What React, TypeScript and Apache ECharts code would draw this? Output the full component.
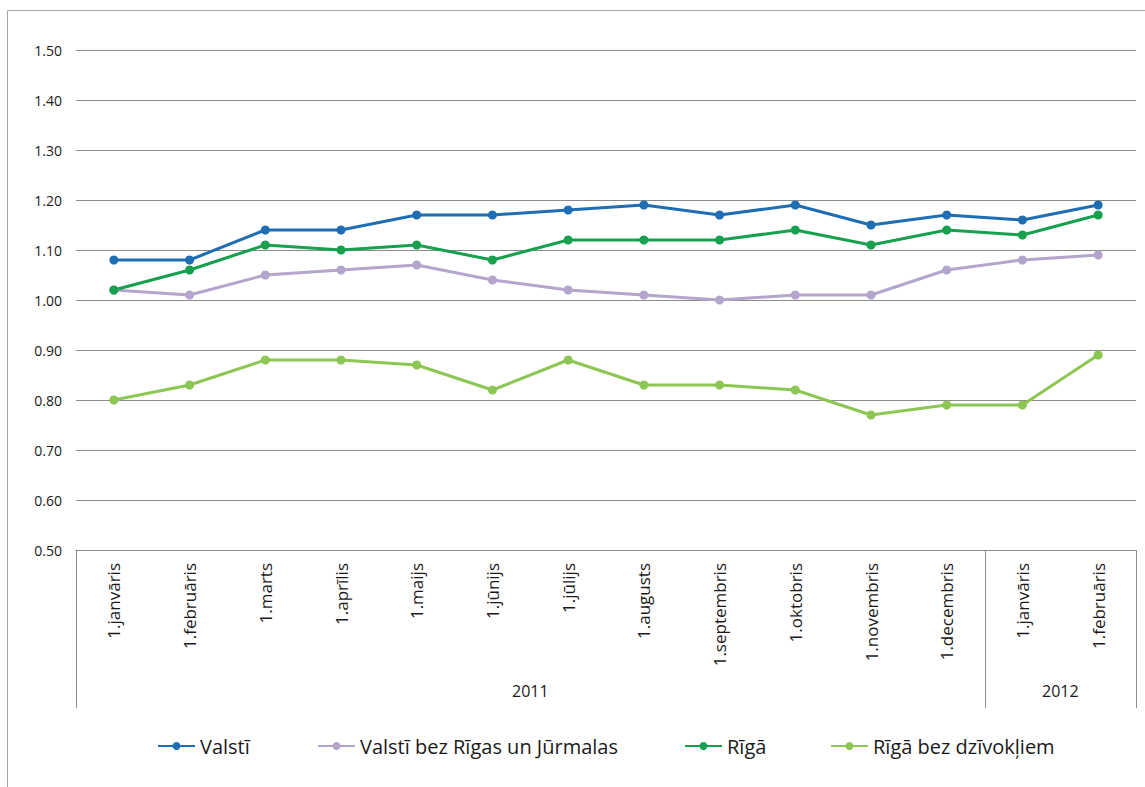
import React, { useEffect, useRef } from "react";
import * as echarts from "echarts";

const categories = [
  "1.janvāris", "1.februāris", "1.marts", "1.aprīlis", "1.maijs", "1.jūnijs", "1.jūlijs",
  "1.augusts", "1.septembris", "1.oktobris", "1.novembris", "1.decembris", "1.janvāris", "1.februāris",
];
const years = [
  { label: "2011", from: 0, to: 11 },
  { label: "2012", from: 12, to: 13 },
];
const valsti = [1.08, 1.08, 1.14, 1.14, 1.17, 1.17, 1.18, 1.19, 1.17, 1.19, 1.15, 1.17, 1.16, 1.19];
const valstiBezRigas = [1.02, 1.01, 1.05, 1.06, 1.07, 1.04, 1.02, 1.01, 1.0, 1.01, 1.01, 1.06, 1.08, 1.09];
const riga = [1.02, 1.06, 1.11, 1.1, 1.11, 1.08, 1.12, 1.12, 1.12, 1.14, 1.11, 1.14, 1.13, 1.17];
const rigaBezDz = [0.8, 0.83, 0.88, 0.88, 0.87, 0.82, 0.88, 0.83, 0.83, 0.82, 0.77, 0.79, 0.79, 0.89];

const seriesDefs = [
  { name: "Valstī", data: valsti, color: "#1f6db3" },
  { name: "Valstī bez Rīgas un Jūrmalas", data: valstiBezRigas, color: "#b3a5cc" },
  { name: "Rīgā", data: riga, color: "#17a04d" },
  { name: "Rīgā bez dzīvokļiem", data: rigaBezDz, color: "#8cc653" },
];
const legendLefts = [157, 317, 684, 830];

const FONT = "'Open Sans', sans-serif";

export default function App() {
  const ref = useRef<HTMLDivElement>(null);
  useEffect(() => {
    if (!ref.current) return;
    const chart = echarts.init(ref.current, null, { renderer: "svg" });
    const option: any = {
      animation: false,
      backgroundColor: "#ffffff",
      grid: { left: 76, right: 9, top: 50, bottom: 237 },
      legend: seriesDefs.map((s, i) => ({
        data: [s.name],
        left: legendLefts[i],
        top: 735,
        padding: 0,
        itemWidth: 37,
        itemHeight: 10,
        itemGap: 0,
        textStyle: { fontFamily: FONT, fontSize: 20, lineHeight: 22, color: "#1a1a1a" },
      })),
      xAxis: {
        type: "category",
        data: categories,
        boundaryGap: true,
        axisLine: { show: true, lineStyle: { color: "#8c8c8c", width: 1 } },
        axisTick: { show: false },
        axisLabel: {
          rotate: 90,
          interval: 0,
          margin: 13,
          fontFamily: FONT,
          fontSize: 17,
          color: "#1a1a1a",
        },
      },
      yAxis: {
        type: "value",
        min: 0.5,
        max: 1.5,
        interval: 0.1,
        axisLine: { show: false },
        axisTick: { show: false },
        splitLine: { lineStyle: { color: "#8c8c8c", width: 1 } },
        axisLabel: {
          margin: 14,
          fontFamily: FONT,
          fontSize: 14,
          color: "#1a1a1a",
          formatter: (v: number) => v.toFixed(2),
        },
      },
      series: seriesDefs.map((s) => ({
        name: s.name,
        type: "line",
        data: s.data,
        symbol: "circle",
        symbolSize: 9,
        color: s.color,
        lineStyle: { width: 3, color: s.color },
        itemStyle: { color: s.color },
      })),
    };
    chart.setOption(option);

    const c0 = chart.convertToPixel({ xAxisIndex: 0 }, 0) as number;
    const c1 = chart.convertToPixel({ xAxisIndex: 0 }, 1) as number;
    const band = c1 - c0;
    const yBase = chart.convertToPixel({ yAxisIndex: 0 }, 0.5) as number;
    const elements: any[] = [
      {
        type: "rect",
        shape: { x: 7.5, y: 10.5, width: 1200, height: 900 },
        style: { fill: "none", stroke: "#a6a6a6", lineWidth: 1 },
        silent: true,
      },
    ];
    const boundaries = new Set<number>();
    years.forEach((y) => {
      boundaries.add(y.from);
      boundaries.add(y.to + 1);
    });
    boundaries.forEach((b) => {
      const x = Math.round(c0 + (b - 0.5) * band) + 0.5;
      elements.push({
        type: "line",
        shape: { x1: x, y1: yBase, x2: x, y2: yBase + 158 },
        style: { stroke: "#8c8c8c", lineWidth: 1 },
        silent: true,
      });
    });
    years.forEach((y) => {
      const xa = c0 + (y.from - 0.5) * band;
      const xb = c0 + (y.to + 0.5) * band;
      elements.push({
        type: "text",
        x: (xa + xb) / 2,
        y: yBase + 141,
        style: {
          text: y.label,
          fontFamily: FONT,
          fontSize: 16,
          fill: "#1a1a1a",
          align: "center",
          verticalAlign: "middle",
        },
        silent: true,
      });
    });
    chart.setOption({ graphic: { elements } });

    return () => chart.dispose();
  }, []);
  return (
    <div
      ref={ref}
      style={{ position: "absolute", left: 0, top: 0, width: 1145, height: 787 }}
    />
  );
}
